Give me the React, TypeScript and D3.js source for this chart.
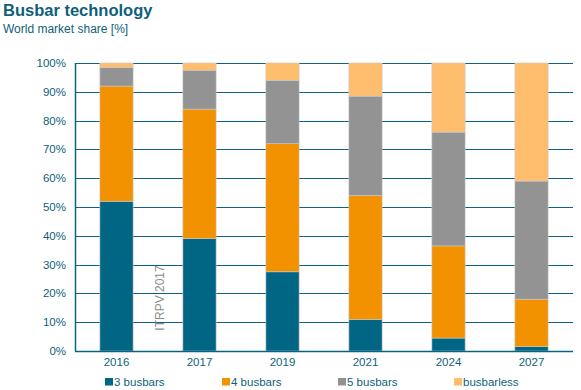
import React, { useEffect, useRef } from 'react';
import * as d3 from 'd3';

const years = ['2016', '2017', '2019', '2021', '2024', '2027'];
const threeBusbars = [52, 39, 27.5, 11, 4.5, 1.5];
const fourBusbars = [40, 45, 44.5, 43, 32, 16.5];
const fiveBusbars = [6.5, 13.5, 22, 34.5, 39.5, 41];
const busbarless = [1.5, 2.5, 6, 11.5, 24, 41];
const seriesNames = ['3 busbars', '4 busbars', '5 busbars', 'busbarless'];
const seriesColors = ['#006684', '#f39200', '#939393', '#ffbe6e'];
const yTicks = [0, 10, 20, 30, 40, 50, 60, 70, 80, 90, 100];

const App = () => {
  const chartRef = useRef<SVGSVGElement>(null);

  useEffect(() => {
    const width = 581;
    const height = 390;
    const margin = { top: 63, right: 8, bottom: 39, left: 75 };
    const innerW = width - margin.left - margin.right;
    const innerH = height - margin.top - margin.bottom;
    const teal = '#0f5f7a';
    const font = 'Liberation Sans, Arial, sans-serif';

    const svg = d3.select(chartRef.current);
    svg.selectAll('*').remove();

    // title + subtitle
    svg.append('text').attr('x', 3).attr('y', 16)
      .attr('font-family', font).attr('font-size', 16.5).attr('font-weight', 'bold')
      .attr('fill', teal).text('Busbar technology');
    svg.append('text').attr('x', 3).attr('y', 33)
      .attr('font-family', font).attr('font-size', 12)
      .attr('fill', teal).text('World market share [%]');

    const g = svg.append('g').attr('transform', `translate(${margin.left},${margin.top})`);

    const x = d3.scaleBand().domain(years).range([0, innerW]).paddingInner(0.6).paddingOuter(0.3);
    const y = d3.scaleLinear().domain([0, 100]).range([innerH, 0]);

    // gridlines
    g.selectAll('.grid').data(yTicks).enter().append('line')
      .attr('x1', 0).attr('x2', innerW)
      .attr('y1', (d) => Math.round(y(d)) + 0.5).attr('y2', (d) => Math.round(y(d)) + 0.5)
      .attr('stroke', '#0a6384').attr('stroke-width', 1.2);

    // stack
    const rows = years.map((yr, i) => ({
      year: yr,
      '3 busbars': threeBusbars[i],
      '4 busbars': fourBusbars[i],
      '5 busbars': fiveBusbars[i],
      busbarless: busbarless[i],
    }));
    const stacked = d3.stack<any>().keys(seriesNames)(rows);

    stacked.forEach((layer, li) => {
      g.selectAll(`.bar${li}`).data(layer).enter().append('rect')
        .attr('x', (d: any) => x(d.data.year)!)
        .attr('width', x.bandwidth())
        .attr('y', (d) => y(d[1]))
        .attr('height', (d) => y(d[0]) - y(d[1]))
        .attr('fill', seriesColors[li])
        .attr('stroke', '#c8c8c8').attr('stroke-width', 0.6);
    });

    // axis lines
    g.append('line').attr('x1', 0.5).attr('x2', 0.5).attr('y1', 0).attr('y2', innerH)
      .attr('stroke', '#0a6384').attr('stroke-width', 1.5);
    g.append('line').attr('x1', 0).attr('x2', innerW).attr('y1', innerH + 0.5).attr('y2', innerH + 0.5)
      .attr('stroke', '#0a6384').attr('stroke-width', 1.5);

    // y labels
    g.selectAll('.ylab').data(yTicks).enter().append('text')
      .attr('x', -9).attr('y', (d) => y(d) + 4)
      .attr('text-anchor', 'end').attr('font-family', font).attr('font-size', 11.5)
      .attr('fill', teal).text((d) => `${d}%`);

    // x labels
    g.selectAll('.xlab').data(years).enter().append('text')
      .attr('x', (d) => x(d)! + x.bandwidth() / 2).attr('y', innerH + 15)
      .attr('text-anchor', 'middle').attr('font-family', font).attr('font-size', 11.5)
      .attr('fill', teal).text((d) => d);

    // watermark
    g.append('text')
      .attr('transform', `translate(${160 - margin.left + 4},${298 - margin.top}) rotate(-90)`)
      .attr('text-anchor', 'middle').attr('font-family', font).attr('font-size', 12)
      .attr('fill', '#8c8c8c').text('ITRPV 2017');

    // legend
    const legendX = [105, 222, 338, 454];
    const legend = svg.selectAll('.legend').data(seriesNames).enter().append('g')
      .attr('transform', (d, i) => `translate(${legendX[i]},378)`);
    legend.append('rect').attr('width', 8).attr('height', 7.5)
      .attr('fill', (d, i) => seriesColors[i]);
    legend.append('text').attr('x', 9).attr('y', 8)
      .attr('font-family', font).attr('font-size', 11.5).attr('fill', teal)
      .text((d) => d);
  }, []);

  return <svg ref={chartRef} width={581} height={390} style={{ position: 'absolute', left: 0, top: 0 }} />;
};

export default App;
